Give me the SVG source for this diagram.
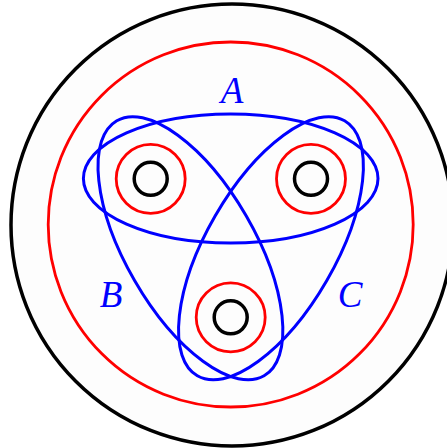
<svg xmlns="http://www.w3.org/2000/svg" width="447" height="448" viewBox="0 0 447 448">
<style>
.blk{fill:none;stroke:#000;stroke-width:3.5}
.red{fill:none;stroke:#ff0000;stroke-width:2.8}
.blu{fill:none;stroke:#0000ff;stroke-width:3}
.lbl{font-family:"Liberation Serif","Times New Roman",serif;font-style:italic;font-size:37px;fill:#0000ff;text-anchor:middle}
</style>
<rect width="447" height="448" fill="#ffffff"/>
<g id="outer">
<circle cx="232" cy="225" r="221" fill="#fdfdfd" stroke="#000" stroke-width="3.5"/>
<circle class="red" cx="230.7" cy="224.5" r="182.5"/>
</g>
<g id="hole1">
<circle class="red" cx="150.7" cy="178.8" r="34.5"/>
<circle class="blk" cx="150.7" cy="178.8" r="16.5" fill="#fff"/>
</g>
<g id="hole2">
<circle class="red" cx="311" cy="178.8" r="34.5"/>
<circle class="blk" cx="311" cy="178.8" r="16.5" fill="#fff"/>
</g>
<g id="hole3">
<circle class="red" cx="230.7" cy="317.3" r="34.5"/>
<circle class="blk" cx="230.7" cy="317.3" r="16.5" fill="#fff"/>
</g>
<g id="A">
<ellipse class="blu" cx="230.7" cy="178.5" rx="147.3" ry="64.5"/>
<text class="lbl" x="232" y="103">A</text>
</g>
<g id="B">
<ellipse class="blu" cx="230.7" cy="178.5" rx="147.3" ry="64.5" transform="rotate(-120 230.7 225)"/>
<text class="lbl" x="111" y="307">B</text>
</g>
<g id="C">
<ellipse class="blu" cx="230.7" cy="178.5" rx="147.3" ry="64.5" transform="rotate(120 230.7 225)"/>
<text class="lbl" x="350" y="307">C</text>
</g>
</svg>
